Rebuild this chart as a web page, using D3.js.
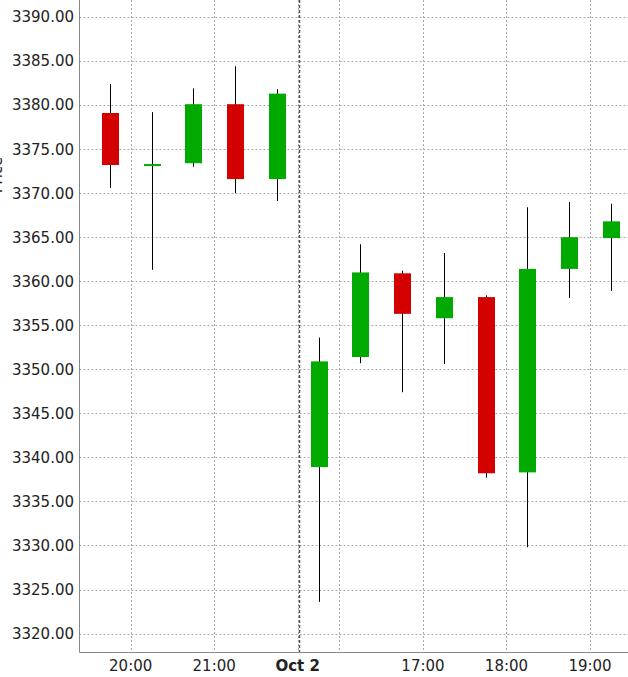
<!DOCTYPE html>
<html>
<head>
<meta charset="utf-8">
<script src="https://cdn.jsdelivr.net/npm/d3@7"></script>
<style>
  body { margin: 0; background: #fff; }
  svg { display: block; font-family: "DejaVu Sans", sans-serif; }
</style>
</head>
<body>
<svg></svg>
<script>
// 30 minute bars, two trading sessions
var times  = ["2019-10-01 19:30", "2019-10-01 20:00", "2019-10-01 20:30", "2019-10-01 21:00", "2019-10-01 21:30",
              "2019-10-02 15:30", "2019-10-02 16:00", "2019-10-02 16:30", "2019-10-02 17:00", "2019-10-02 17:30",
              "2019-10-02 18:00", "2019-10-02 18:30", "2019-10-02 19:00"];
var open   = [3379.1, 3373.1, 3373.4, 3380.1, 3371.6, 3338.9, 3351.4, 3360.9, 3355.8, 3358.2, 3338.3, 3361.4, 3364.9];
var high   = [3382.4, 3379.2, 3381.9, 3384.4, 3381.8, 3353.6, 3364.2, 3361.2, 3363.2, 3358.4, 3368.4, 3369.0, 3368.8];
var low    = [3370.6, 3361.3, 3373.0, 3370.0, 3369.1, 3323.6, 3350.7, 3347.4, 3350.6, 3337.7, 3329.8, 3358.1, 3358.9];
var close  = [3373.2, 3373.3, 3380.1, 3371.6, 3381.3, 3350.9, 3361.0, 3356.3, 3358.2, 3338.2, 3361.4, 3365.0, 3366.8];

// session windows (gaps between them are removed from the x axis)
var sessionStart = ["2019-10-01 19:30", "2019-10-02 15:30"];
var sessionEnd   = ["2019-10-01 22:00", "2019-10-02 22:00"];

var xTicks      = ["2019-10-01 20:00", "2019-10-01 21:00", "2019-10-02 15:30", "2019-10-02 16:00", "2019-10-02 17:00", "2019-10-02 18:00", "2019-10-02 19:00"];
var xTickLabels = ["20:00", "21:00", "Oct 2", "", "17:00", "18:00", "19:00"];
var yTicks = [3320, 3325, 3330, 3335, 3340, 3345, 3350, 3355, 3360, 3365, 3370, 3375, 3380, 3385, 3390];

var red = "#d40000", green = "#00aa00";
var svgWidth = 628, svgHeight = 677;
var left = 79.5, bottom = 652.5;

var parse = d3.timeParse("%Y-%m-%d %H:%M");

// minutes of trading time since first session start
function tradeMin(s) {
    var t = parse(s), acc = 0;
    for (var i = 0; i < sessionStart.length; i++) {
        var a = parse(sessionStart[i]), b = parse(sessionEnd[i]);
        if (t >= a && t <= b) return acc + (t - a) / 60000;
        acc += (b - a) / 60000;
    }
    return acc;
}

var svg = d3.select("svg").attr("width", svgWidth).attr("height", svgHeight);

var xScale = d3.scaleLinear().domain([-6.78, 387.3]).range([left, svgWidth]);
var yScale = d3.scaleLinear().domain([3317.85, 3391.93]).range([bottom, 0]);

// grid
var grid = svg.append("g");
grid.selectAll(".hg").data(yTicks).enter().append("line")
    .attr("x1", left).attr("x2", svgWidth)
    .attr("y1", function(d) { return Math.round(yScale(d)) + 0.5; })
    .attr("y2", function(d) { return Math.round(yScale(d)) + 0.5; })
    .attr("stroke", "#aaa").attr("stroke-dasharray", "2,2");
grid.selectAll(".vg").data(xTicks).enter().append("line")
    .attr("x1", function(d) { return Math.round(xScale(tradeMin(d))) + 0.5; })
    .attr("x2", function(d) { return Math.round(xScale(tradeMin(d))) + 0.5; })
    .attr("y1", 0).attr("y2", bottom)
    .attr("stroke", "#aaa").attr("stroke-dasharray", "2,2");

// day separator
var sepX = Math.round(xScale(tradeMin(sessionStart[1]))) + 1.5;
svg.append("line")
    .attr("x1", sepX).attr("x2", sepX).attr("y1", 0).attr("y2", bottom)
    .attr("stroke", "#555").attr("stroke-width", 1.5).attr("stroke-dasharray", "3,2");

// candles
var bw = 17;
var candles = svg.append("g").selectAll("g").data(times).enter().append("g");
candles.append("line")
    .attr("x1", function(d) { return Math.round(xScale(tradeMin(d) + 15)) + 0.5; })
    .attr("x2", function(d) { return Math.round(xScale(tradeMin(d) + 15)) + 0.5; })
    .attr("y1", function(d, i) { return yScale(high[i]); })
    .attr("y2", function(d, i) { return yScale(low[i]); })
    .attr("stroke", "#000").attr("stroke-width", 1);
candles.append("rect")
    .attr("x", function(d) { return Math.round(xScale(tradeMin(d) + 15)) - 8; })
    .attr("y", function(d, i) { return yScale(Math.max(open[i], close[i])); })
    .attr("width", bw)
    .attr("height", function(d, i) { return Math.max(2, Math.abs(yScale(open[i]) - yScale(close[i]))); })
    .attr("fill", function(d, i) { return close[i] >= open[i] ? green : red; });

// axes
svg.append("line").attr("x1", left).attr("x2", left).attr("y1", 0).attr("y2", bottom).attr("stroke", "#888");
svg.append("line").attr("x1", left).attr("x2", svgWidth).attr("y1", bottom).attr("y2", bottom).attr("stroke", "#888");

svg.append("g").selectAll("text").data(yTicks).enter().append("text")
    .attr("x", 74).attr("y", function(d) { return yScale(d); }).attr("dy", "0.36em")
    .attr("text-anchor", "end").attr("font-size", 15).attr("fill", "#222")
    .text(function(d) { return d3.format(".2f")(d); });

svg.append("g").selectAll("text").data(xTicks).enter().append("text")
    .attr("x", function(d) { return xScale(tradeMin(d)); }).attr("y", 671)
    .attr("text-anchor", "middle").attr("font-size", 15).attr("fill", "#222")
    .attr("font-weight", function(d, i) { return xTickLabels[i] == "Oct 2" ? "bold" : "normal"; })
    .text(function(d, i) { return xTickLabels[i]; });

// y axis title, mostly cut off at the left edge (as in the original)
svg.append("text")
    .attr("transform", "translate(1.5,175) rotate(-90)")
    .attr("text-anchor", "middle").attr("font-size", 15).attr("fill", "#222")
    .text("Price");
</script>
</body>
</html>
